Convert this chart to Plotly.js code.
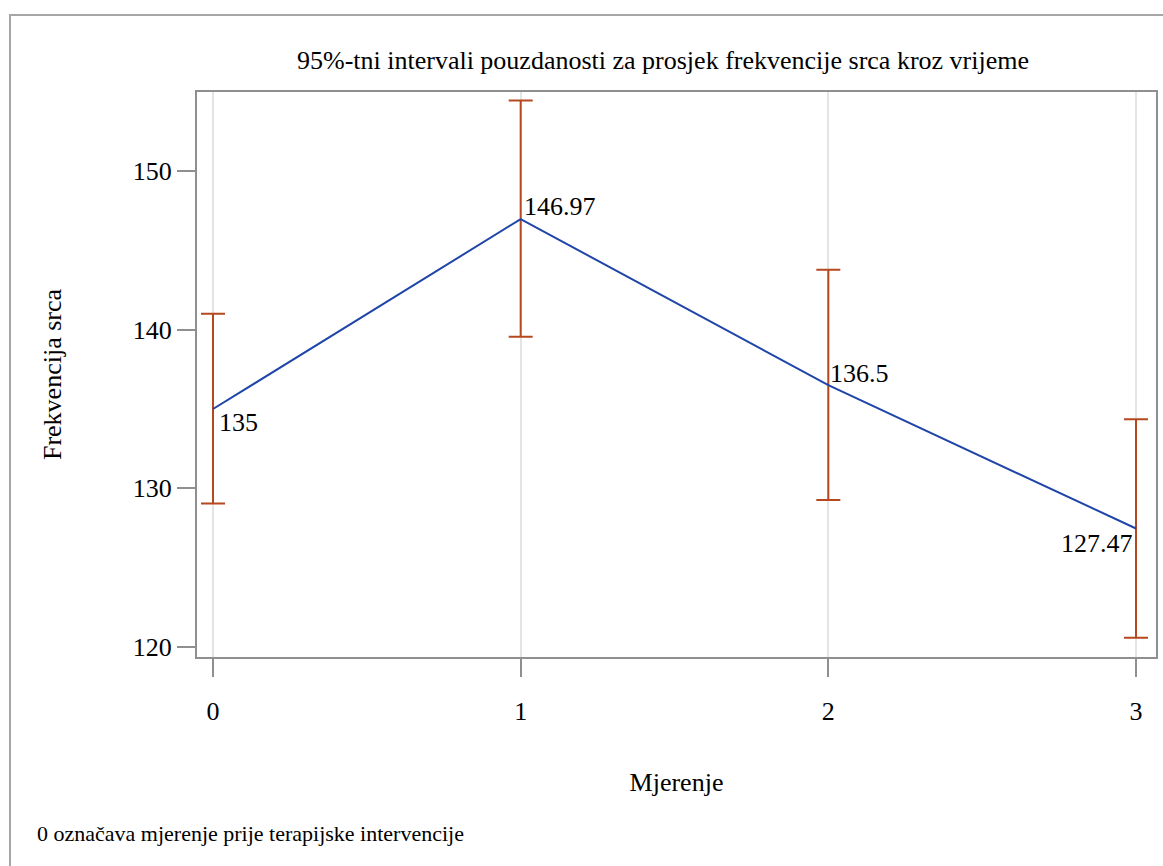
<!DOCTYPE html>
<html>
<head>
<meta charset="utf-8">
<script src="https://cdn.plot.ly/plotly-3.0.1.min.js"></script>
<style>html,body{margin:0;padding:0;background:#fff;}</style>
</head>
<body>
<div id="chart" style="width:1163px;height:866px;"></div>
<script>
var measurements = [0, 1, 2, 3];
var meanHR = [135, 146.97, 136.5, 127.47];
var ciLower = [129.05, 139.55, 129.27, 120.58];
var ciUpper = [141.0, 154.45, 143.77, 134.35];
var pointLabels = ['135', '146.97', '136.5', '127.47'];

// label placement (style only)
var labelAnchor = ['left', 'left', 'left', 'right'];
var labelShiftX = [4, 1, 0, -1];
var labelShiftY = [-13.5, 13, 12, -15.5];

var plusErr = meanHR.map(function(m, i){ return ciUpper[i] - m; });
var minusErr = meanHR.map(function(m, i){ return m - ciLower[i]; });

var FONT = 'Liberation Serif';

var trace = {
  x: measurements,
  y: meanHR,
  type: 'scatter',
  mode: 'lines',
  line: {color: '#1f45a8', width: 2},
  error_y: {
    type: 'data', symmetric: false,
    array: plusErr, arrayminus: minusErr,
    color: '#b5481f', thickness: 2, width: 12
  },
  hoverinfo: 'x+y'
};

var annotations = measurements.map(function(xv, i){
  return {
    x: xv, y: meanHR[i], xref: 'x', yref: 'y',
    text: pointLabels[i], showarrow: false,
    xanchor: labelAnchor[i], yanchor: 'middle',
    xshift: labelShiftX[i], yshift: labelShiftY[i],
    font: {family: FONT, size: 26, color: '#000'}
  };
});
annotations.push({
  text: '0 označava mjerenje prije terapijske intervencije',
  xref: 'paper', yref: 'paper',
  x: (35-197)/959, y: (657-833)/565,
  xanchor: 'left', yanchor: 'middle', showarrow: false,
  font: {family: FONT, size: 22, color: '#000'}
});

var layout = {
  width: 1163, height: 866,
  margin: {l: 197, r: 7, t: 92, b: 209},
  paper_bgcolor: '#fff', plot_bgcolor: '#fff',
  showlegend: false,
  font: {family: FONT, size: 26, color: '#000'},
  title: {
    text: '95%-tni intervali pouzdanosti za prosjek frekvencije srca kroz vrijeme',
    font: {family: FONT, size: 26, color: '#000'},
    x: 663/1163, xanchor: 'center', xref: 'container',
    y: 1 - 60/866, yanchor: 'middle', yref: 'container'
  },
  xaxis: {
    range: [-0.052, 3.065],
    tickvals: measurements,
    ticktext: ['0', '1', '2', '3'],
    ticks: 'outside', ticklen: 18, tickwidth: 2, tickcolor: '#8f8f8f',
    ticklabelstandoff: 12,
    tickfont: {family: FONT, size: 26, color: '#000'},
    showgrid: true, gridcolor: '#e4e4e4', gridwidth: 2,
    zeroline: false,
    showline: true, linecolor: '#8f8f8f', linewidth: 2, mirror: true,
    title: {text: 'Mjerenje', font: {family: FONT, size: 26, color: '#000'}, standoff: 48}
  },
  yaxis: {
    range: [119.37, 154.98],
    tickvals: [120, 130, 140, 150],
    ticks: 'outside', ticklen: 18, tickwidth: 2, tickcolor: '#8f8f8f',
    tickfont: {family: FONT, size: 26, color: '#000'},
    showgrid: false, zeroline: false,
    showline: true, linecolor: '#8f8f8f', linewidth: 2, mirror: true,
    title: {text: 'Frekvencija srca', font: {family: FONT, size: 26, color: '#000'}, standoff: 64}
  },
  shapes: [{
    type: 'rect', xref: 'paper', yref: 'paper',
    x0: (10-197)/959, x1: 1.2, y0: (657-15)/565, y1: -0.6,
    line: {color: '#a6a6a6', width: 2}, fillcolor: 'rgba(0,0,0,0)', layer: 'below'
  }],
  annotations: annotations
};

Plotly.newPlot('chart', [trace], layout, {displayModeBar: false, staticPlot: true});
</script>
</body>
</html>
